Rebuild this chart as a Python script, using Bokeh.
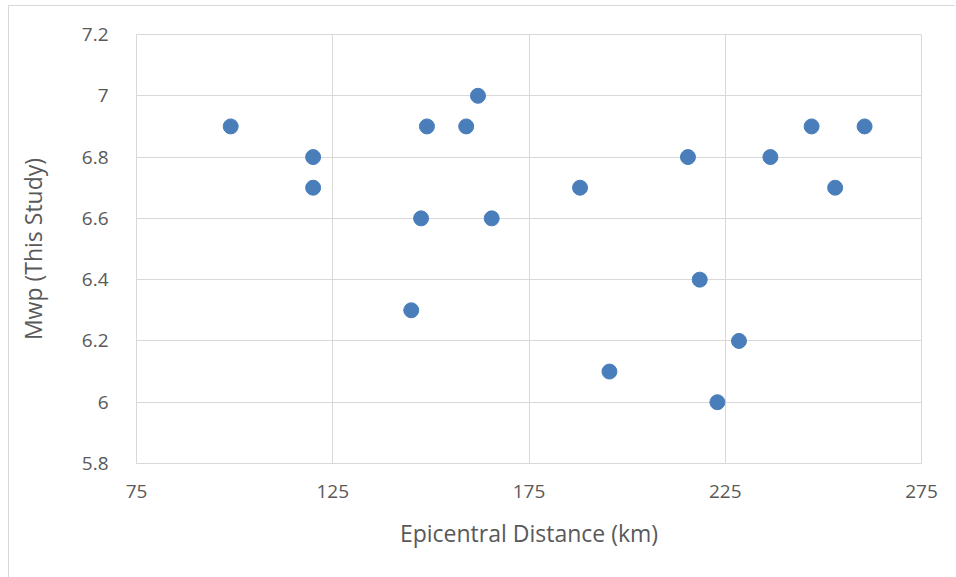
from bokeh.plotting import figure
from bokeh.models import FixedTicker, Range1d
from bokeh.embed import file_html
from bokeh.resources import INLINE

distance_km = [99, 120, 120, 145, 147.5, 149, 159, 162, 165.5, 188, 195.5,
               215.5, 218.5, 223, 228.5, 236.5, 247, 253, 260.5]
mwp = [6.9, 6.8, 6.7, 6.3, 6.6, 6.9, 6.9, 7.0, 6.6, 6.7, 6.1,
       6.8, 6.4, 6.0, 6.2, 6.8, 6.9, 6.7, 6.9]

x_ticks = [75, 125, 175, 225, 275]
y_ticks = [5.8, 6.0, 6.2, 6.4, 6.6, 6.8, 7.0, 7.2]
y_tick_labels = ["5.8", "6", "6.2", "6.4", "6.6", "6.8", "7", "7.2"]

FONT = "Open Sans"
GRID = "#d9d9d9"
TEXT = "#595959"

p = figure(width=947, height=572, output_backend="svg", toolbar_location=None,
           x_range=Range1d(75, 275), y_range=Range1d(5.8, 7.2),
           min_border_left=127, min_border_right=35, min_border_top=28,
           min_border_bottom=115, margin=(5, 0, 0, 8),
           styles={"border-left": "1px solid #d9d9d9", "border-top": "1px solid #d9d9d9"})
p.outline_line_color = GRID
p.outline_line_width = 1

p.scatter(distance_km, mwp, size=15, color="#4a7ebb", line_color="#4a7ebb")

p.xaxis.ticker = FixedTicker(ticks=x_ticks)
p.yaxis.ticker = FixedTicker(ticks=y_ticks)
p.yaxis.major_label_overrides = {t: l for t, l in zip(y_ticks, y_tick_labels)}

for ax in (p.xaxis[0], p.yaxis[0]):
    ax.axis_line_color = GRID
    ax.major_tick_line_color = None
    ax.minor_tick_line_color = None
    ax.major_label_text_font = FONT
    ax.major_label_text_font_size = "19px"
    ax.major_label_text_color = TEXT
    ax.axis_label_text_font = FONT
    ax.axis_label_text_font_size = "23px"
    ax.axis_label_text_color = TEXT
    ax.axis_label_text_font_style = "normal"

p.xaxis.axis_label = "Epicentral Distance (km)"
p.yaxis.axis_label = "Mwp (This Study)"
p.xaxis.major_label_standoff = 15
p.yaxis.major_label_standoff = 22
p.xaxis.axis_label_standoff = 16
p.yaxis.axis_label_standoff = 30

p.xgrid.ticker = FixedTicker(ticks=x_ticks)
p.ygrid.ticker = FixedTicker(ticks=y_ticks)
p.xgrid.grid_line_color = GRID
p.ygrid.grid_line_color = GRID

open("out.html", "w").write(file_html(p, INLINE))
